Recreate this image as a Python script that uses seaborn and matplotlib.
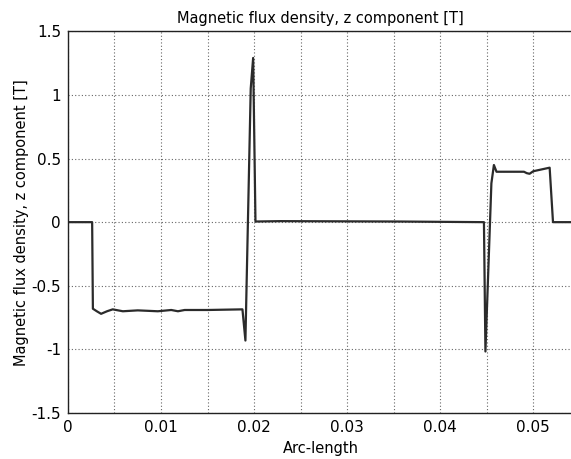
import matplotlib.pyplot as plt
import matplotlib.ticker as mticker
import pandas as pd
import seaborn as sns

# arc-length positions and Bz values
arc = [0.0, 0.0026, 0.00268, 0.0031, 0.00356, 0.0042, 0.00481, 0.0059, 0.0075,
       0.00966, 0.0111, 0.01182, 0.01254, 0.0150, 0.01875, 0.01907, 0.01964,
       0.0199, 0.02015, 0.0228, 0.0355, 0.0447, 0.04486, 0.0455, 0.04577,
       0.04605, 0.0490, 0.0493, 0.0496, 0.0500, 0.05176, 0.05212, 0.0545]
bz = [0.0, 0.0, -0.68, -0.70, -0.72, -0.70, -0.685, -0.70, -0.693,
      -0.70, -0.69, -0.70, -0.69, -0.69, -0.685, -0.93, 1.05,
      1.29, 0.005, 0.008, 0.005, 0.0, -1.016, 0.305, 0.449,
      0.396, 0.396, 0.385, 0.38, 0.40, 0.428, 0.0, 0.0]

df = pd.DataFrame({'arc': arc, 'bz': bz})

sns.set_style('white')
plt.rcParams['font.family'] = ['DejaVu Sans']
plt.rcParams['axes.unicode_minus'] = False
plt.rcParams['text.color'] = 'black'
plt.rcParams['axes.labelcolor'] = 'black'
plt.rcParams['xtick.color'] = 'black'
plt.rcParams['ytick.color'] = 'black'

fig = plt.figure(figsize=(5.71, 4.59), dpi=100)
ax = fig.add_axes([0.119, 0.100, 0.885, 0.832])

sns.lineplot(data=df, x='arc', y='bz', sort=False, color='#2b2b2b', linewidth=1.6, ax=ax)

ax.set_xlim(0, 0.0543)
ax.set_ylim(-1.5, 1.5)
ax.xaxis.set_major_locator(mticker.MultipleLocator(0.01))
ax.xaxis.set_minor_locator(mticker.MultipleLocator(0.005))
ax.yaxis.set_major_locator(mticker.MultipleLocator(0.5))
ax.xaxis.set_major_formatter(mticker.FuncFormatter(lambda v, p: f'{v:g}'))
ax.yaxis.set_major_formatter(mticker.FuncFormatter(lambda v, p: f'{v:g}'))
ax.grid(which='both', axis='x', linestyle=(0, (1, 2)), color='#666666', linewidth=0.8)
ax.grid(which='major', axis='y', linestyle=(0, (1, 2)), color='#666666', linewidth=0.8)
ax.tick_params(which='both', length=0, labelsize=11, pad=5)
for s in ax.spines.values():
    s.set_color('#222222')
    s.set_linewidth(1.0)
ax.spines['right'].set_visible(False)

ax.set_title('Magnetic flux density, z component [T]', fontsize=10.5, pad=6)
ax.set_xlabel('Arc-length', fontsize=10.5, labelpad=4)
ax.set_ylabel('Magnetic flux density, z component [T]', fontsize=10.5, labelpad=2)

fig.savefig('out.png', dpi=100)
